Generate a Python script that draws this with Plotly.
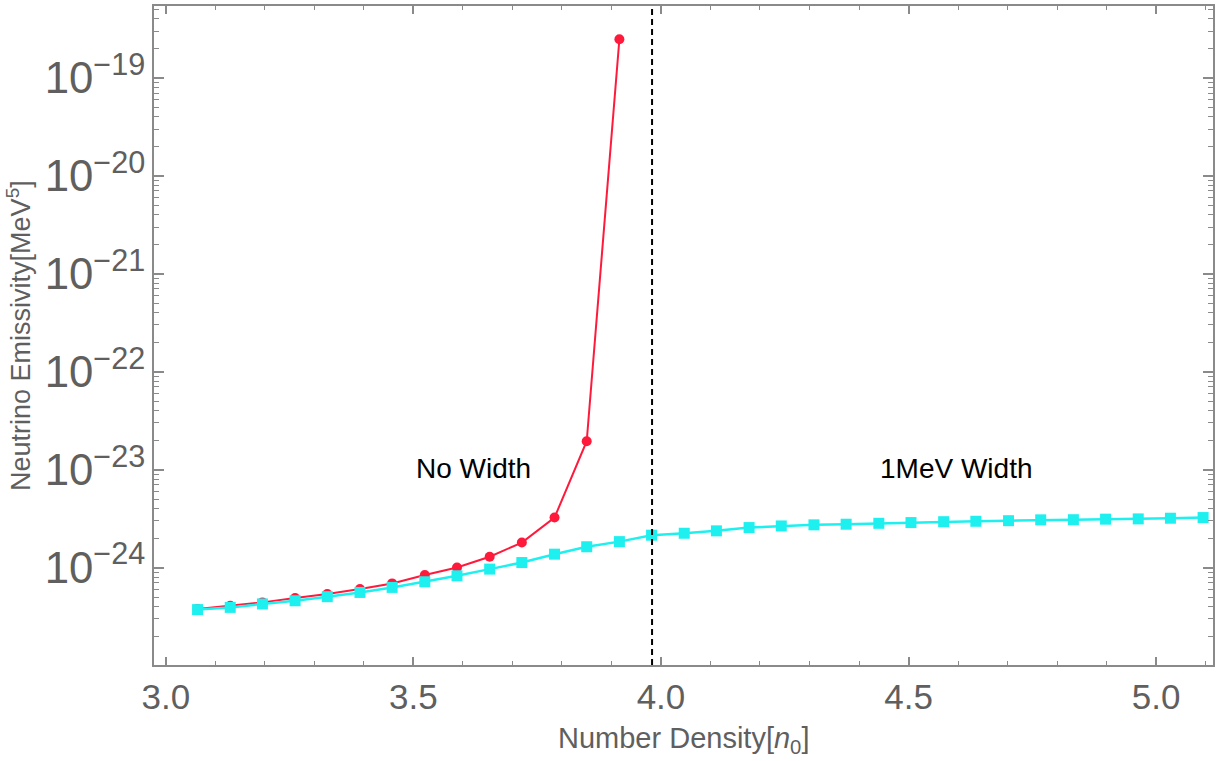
import plotly.graph_objects as go

# Number density [n0]
x_red = [3.064, 3.130, 3.195, 3.261, 3.326, 3.392, 3.457, 3.523, 3.588, 3.654,
         3.719, 3.785, 3.850, 3.916]
x_cyan = [3.064, 3.130, 3.195, 3.261, 3.326, 3.392, 3.457, 3.523, 3.588, 3.654,
          3.719, 3.785, 3.850, 3.916, 3.981, 4.047, 4.112, 4.178, 4.243, 4.309,
          4.374, 4.440, 4.505, 4.571, 4.636, 4.702, 4.767, 4.833, 4.898, 4.964,
          5.029, 5.095]

# Neutrino emissivity [MeV^5]
y_no_width = [3.78e-25, 4.07e-25, 4.41e-25, 4.89e-25, 5.36e-25, 6.03e-25, 6.89e-25,
              8.38e-25, 1.00e-24, 1.29e-24, 1.80e-24, 3.24e-24, 1.95e-23, 2.48e-19]
y_1mev_width = [3.72e-25, 3.92e-25, 4.25e-25, 4.58e-25, 5.04e-25, 5.57e-25, 6.27e-25,
                7.16e-25, 8.24e-25, 9.64e-25, 1.125e-24, 1.37e-24, 1.63e-24, 1.84e-24,
                2.14e-24, 2.24e-24, 2.37e-24, 2.56e-24, 2.66e-24, 2.73e-24, 2.77e-24,
                2.83e-24, 2.88e-24, 2.94e-24, 2.97e-24, 3.01e-24, 3.07e-24, 3.08e-24,
                3.12e-24, 3.14e-24, 3.19e-24, 3.24e-24]

threshold_x = 3.982
labels = ["No Width", "1MeV Width"]
label_x = [3.622, 4.597]
label_logy = [-22.984, -22.984]

RED = "#ff1a3c"
CYAN = "#1ef0f0"
AXIS = "#8a8a8a"
TXT = "#5f5f5f"
FONT = "Liberation Sans, Arial, Helvetica, sans-serif"

fig = go.Figure()
fig.add_trace(go.Scatter(x=x_red, y=y_no_width, mode="lines+markers",
                         line=dict(color=RED, width=2),
                         marker=dict(color=RED, size=10, symbol="circle"),
                         showlegend=False))
fig.add_trace(go.Scatter(x=x_cyan, y=y_1mev_width, mode="lines+markers",
                         line=dict(color=CYAN, width=2.5),
                         marker=dict(color=CYAN, size=11, symbol="square"),
                         showlegend=False))

fig.add_vline(x=threshold_x, line=dict(color="black", width=2, dash="6px,4px"))

for t, lx, ly in zip(labels, label_x, label_logy):
    fig.add_annotation(x=lx, y=ly, text=t, showarrow=False,
                       font=dict(family=FONT, size=28, color="black"),
                       xanchor="center", yanchor="middle")

# axis titles
fig.add_annotation(xref="paper", yref="paper", x=-0.128, y=0.5,
                   text="Neutrino Emissivity[MeV<sup>5</sup>]", textangle=-90,
                   showarrow=False, font=dict(family=FONT, size=27, color=TXT),
                   xanchor="center", yanchor="middle")
fig.add_annotation(xref="paper", yref="paper", x=0.5, y=-0.1135,
                   text="Number Density[<i>n</i><sub>0</sub>]",
                   showarrow=False, font=dict(family=FONT, size=29, color=TXT),
                   xanchor="center", yanchor="middle")

fig.update_xaxes(range=[2.976, 5.115], showline=True, linecolor=AXIS, linewidth=1.5,
                 mirror="ticks", ticks="inside", ticklen=8, tickcolor=AXIS, tickwidth=1.5,
                 dtick=0.5, tick0=0, tickformat=".1f", showgrid=False, zeroline=False,
                 tickfont=dict(family=FONT, size=35, color=TXT),
                 minor=dict(ticks="inside", ticklen=4, dtick=0.1, tickcolor=AXIS,
                            tickwidth=1, showgrid=False))
fig.update_yaxes(type="log", range=[-24.995, -18.266], showline=True, linecolor=AXIS,
                 linewidth=1.5, mirror="ticks", ticks="inside", ticklen=10,
                 tickcolor=AXIS, tickwidth=1.5, dtick=1, exponentformat="power",
                 showexponent="all", showgrid=False, zeroline=False,
                 tickfont=dict(family=FONT, size=35, color=TXT),
                 minor=dict(ticks="inside", ticklen=5, dtick="D1", tickcolor=AXIS,
                            tickwidth=1, showgrid=False))

fig.update_layout(width=1228, height=761, paper_bgcolor="white", plot_bgcolor="white",
                  margin=dict(l=154, r=15, t=4, b=96), font=dict(family=FONT))

fig.write_html("out.html")
